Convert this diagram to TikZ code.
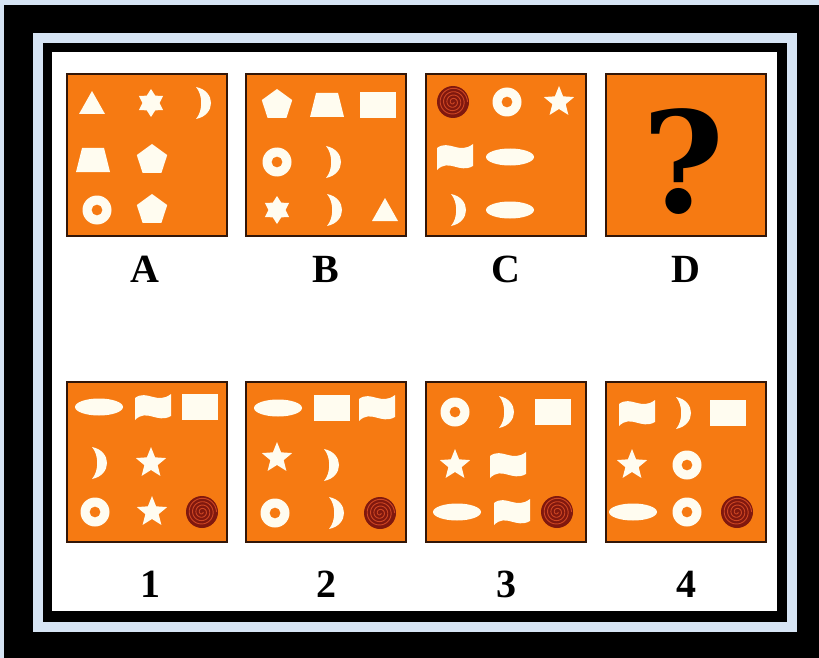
\documentclass[tikz,border=0pt]{standalone}
\usepackage{fontspec}
\setmainfont{Liberation Serif}
\newfontfamily\qfont{DejaVu Serif}
\definecolor{paleblue}{RGB}{214,228,244}
\definecolor{orangebox}{RGB}{246,122,18}
\definecolor{boxline}{RGB}{50,22,8}
\definecolor{shapecol}{RGB}{255,252,240}
\definecolor{spiralred}{RGB}{128,24,14}
\definecolor{spiralline}{RGB}{205,70,35}
\tikzset{
  shp/.style={fill=shapecol},
  panel/.style={fill=orangebox,draw=boxline,line width=2pt},
  lbl/.style={font=\fontsize{40}{40}\selectfont\bfseries,inner sep=0pt,text=black},
}
\newcommand\shTri[2]{\fill[shp,shift={(#1,#2)}] (-13,11) -- (13,11) -- (0,-12) -- cycle;}
\newcommand\shTrap[2]{\fill[shp,shift={(#1,#2)}] (-17,12) -- (17,12) -- (11,-12) -- (-11,-12) -- cycle;}
\newcommand\shRect[2]{\fill[shp,shift={(#1,#2)}] (-18,-13) rectangle (18,13);}
\newcommand\shEll[2]{\fill[shp] (#1,#2) ellipse [x radius=24pt, y radius=8.5pt];}
\newcommand\shRing[2]{\fill[shp,even odd rule] (#1,#2) circle[radius=14.5pt] (#1,#2) circle[radius=5.5pt];}
\newcommand\shPent[2]{\fill[shp,shift={(#1,#2)}] (-90:16) -- (-18:16) -- (54:16) -- (126:16) -- (198:16) -- cycle;}
\newcommand\shStar[2]{\fill[shp,shift={(#1,#2)}] (-90:16) -- (-54:7) -- (-18:16) -- (18:7) -- (54:16) -- (90:7) -- (126:16) -- (162:7) -- (198:16) -- (234:7) -- cycle;}
\newcommand\shHex[2]{\fill[shp,shift={(#1,#2)}] (-90:14) -- (-60:8.5) -- (-30:14) -- (0:8.5) -- (30:14) -- (60:8.5) -- (90:14) -- (120:8.5) -- (150:14) -- (180:8.5) -- (210:14) -- (240:8.5) -- cycle;}
\newcommand\shCres[2]{\fill[shp,shift={(#1,#2)}] (-6,-16) .. controls (14,-12) and (14,12) .. (-6,16) .. controls (1,8) and (1,-8) .. cycle;}
\newcommand\shFlag[2]{\fill[shp,shift={(#1,#2)}] (-18,-9) .. controls (-6,-18) and (4,-2) .. (18,-13) -- (18,9) .. controls (4,17) and (-6,1) .. (-18,13) -- cycle;}
\newcommand\shSpiral[2]{\fill[spiralred] (#1,#2) circle[radius=16pt];
  \draw[spiralline,line width=0.9pt,shift={(#1,#2)}] plot[domain=0:1440,samples=160,smooth] ({\x}:{1+\x/1440*13.5});}
\begin{document}
\begin{tikzpicture}[x=1pt,y=-1pt]
\useasboundingbox (0,0) rectangle (819,658);
% frames
\fill[paleblue] (0,0) rectangle (819,658);
\fill[black] (4,5) rectangle (819,658);
\fill[paleblue] (33,33) rectangle (797,632);
\fill[black] (43,43) rectangle (787,622);
\fill[white] (52,52) rectangle (777,611);
% panels
\foreach \xl in {67,246,426,606}{
  \draw[panel] (\xl,74) rectangle ++(160,162);
  \draw[panel] (\xl,382) rectangle ++(160,160);
}
% A
\shTri{92}{103} \shHex{151}{103} \shCres{202}{103}
\shTrap{93}{160} \shPent{152}{160}
\shRing{97}{210} \shPent{152}{210}
% B
\shPent{277}{105} \shTrap{327}{105} \shRect{378}{105}
\shRing{277}{162} \shCres{332}{162}
\shHex{277}{210} \shCres{333}{210} \shTri{385}{210}
% C
\shSpiral{453}{102} \shRing{507}{102} \shStar{559}{102}
\shFlag{455}{157} \shEll{510}{157}
\shCres{457}{210} \shEll{510}{210}
% D
\node[inner sep=0pt,font=\qfont\fontsize{140}{140}\selectfont\bfseries] (q) at (684,162) {?};
% 1
\shEll{99}{407} \shFlag{153}{407} \shRect{200}{407}
\shCres{98}{463} \shStar{151}{463}
\shRing{95}{512} \shStar{152}{512} \shSpiral{202}{512}
% 2
\shEll{278}{408} \shRect{332}{408} \shFlag{377}{408}
\shStar{277}{458} \shCres{330}{465}
\shRing{275}{513} \shCres{335}{513} \shSpiral{380}{513}
% 3
\shRing{455}{412} \shCres{505}{412} \shRect{553}{412}
\shStar{455}{465} \shFlag{508}{465}
\shEll{457}{512} \shFlag{512}{512} \shSpiral{557}{512}
% 4
\shFlag{637}{413} \shCres{682}{413} \shRect{728}{413}
\shStar{632}{465} \shRing{687}{465}
\shEll{633}{512} \shRing{687}{512} \shSpiral{737}{512}
% labels
\node[lbl] (la) at (145,269) {A};
\node[lbl] (lb) at (326,269) {B};
\node[lbl] (lc) at (506,269) {C};
\node[lbl] (ld) at (686,269) {D};
\node[lbl] (l1) at (150,584) {1};
\node[lbl] (l2) at (326,584) {2};
\node[lbl] (l3) at (506,584) {3};
\node[lbl] (l4) at (686,584) {4};
\end{tikzpicture}
\end{document}
